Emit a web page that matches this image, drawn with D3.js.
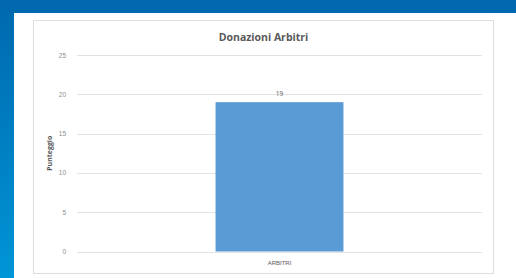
<!DOCTYPE html>
<html>
<head>
<meta charset="utf-8">
<script src="https://cdn.jsdelivr.net/npm/d3@7"></script>
<style>
  body { margin: 0; padding: 0; background: #fff; }
  svg { display: block; }
</style>
</head>
<body>
<div id="chart"></div>
<script>
var categories = ["ARBITRI"];
var values = [19];
var yTicks = [0, 5, 10, 15, 20, 25];
var chartTitle = "Donazioni Arbitri";
var yTitle = "Punteggio";

var W = 516, H = 278;

var svg = d3.select("#chart").append("svg")
    .attr("width", W)
    .attr("height", H)
    .style("font-family", "'Open Sans', 'Liberation Sans', sans-serif");

// slide background
var defs = svg.append("defs");
var grad = defs.append("linearGradient")
    .attr("id", "side")
    .attr("x1", 0).attr("y1", 0).attr("x2", 0).attr("y2", 1);
grad.append("stop").attr("offset", "0%").attr("stop-color", "#0068ae");
grad.append("stop").attr("offset", "100%").attr("stop-color", "#0095d6");

svg.append("rect").attr("width", W).attr("height", H).attr("fill", "#fff");
svg.append("rect").attr("x", 0).attr("y", 0).attr("width", W).attr("height", 13).attr("fill", "#0069b0");
svg.append("rect").attr("x", 0).attr("y", 0).attr("width", 14).attr("height", H).attr("fill", "url(#side)");

// chart frame
svg.append("rect")
    .attr("x", 33.5).attr("y", 20.5)
    .attr("width", 460).attr("height", 253)
    .attr("fill", "#fff")
    .attr("stroke", "#dedede")
    .attr("stroke-width", 1);

var margin = { top: 55, right: 34, bottom: 26, left: 77 };
var width = W - margin.left - margin.right;
var height = H - margin.top - margin.bottom - 0.5;

var g = svg.append("g")
    .attr("transform", "translate(" + margin.left + "," + margin.top + ")");

var y = d3.scaleLinear()
    .domain([0, 25])
    .range([height, 0]);

var x = d3.scaleBand()
    .domain(categories)
    .range([0, width])
    .padding(0.52);

// gridlines
g.selectAll(".grid")
    .data(yTicks)
    .enter()
    .append("line")
    .attr("class", "grid")
    .attr("x1", 0)
    .attr("x2", width)
    .attr("y1", function (d) { return Math.round(y(d)) + 0.5; })
    .attr("y2", function (d) { return Math.round(y(d)) + 0.5; })
    .attr("stroke", "#e3e3e3")
    .attr("stroke-width", 1);

// y axis labels
var yAxisCall = d3.axisLeft(y).tickValues(yTicks).tickSize(0).tickPadding(11);
var yAxis = g.append("g").attr("class", "y-axis").call(yAxisCall);
yAxis.select(".domain").remove();
yAxis.selectAll("text")
    .attr("fill", "#8c8c8c")
    .style("font-size", "6.5px");

// bars
g.selectAll("rect.bar")
    .data(values)
    .enter()
    .append("rect")
    .attr("class", "bar")
    .attr("x", function (d, i) { return x(categories[i]); })
    .attr("y", function (d) { return y(d); })
    .attr("width", x.bandwidth())
    .attr("height", function (d) { return height - y(d); })
    .attr("fill", "#5b9bd5");

// value labels
g.selectAll("text.val")
    .data(values)
    .enter()
    .append("text")
    .attr("class", "val")
    .attr("x", function (d, i) { return x(categories[i]) + x.bandwidth() / 2; })
    .attr("y", function (d) { return y(d) - 6; })
    .attr("text-anchor", "middle")
    .attr("fill", "#595959")
    .style("font-size", "6.5px")
    .text(function (d) { return d; });

// x axis
var xAxisCall = d3.axisBottom(x).tickSize(0).tickPadding(9);
var xAxis = g.append("g")
    .attr("class", "x-axis")
    .attr("transform", "translate(0," + height + ")")
    .call(xAxisCall);
xAxis.select(".domain").remove();
xAxis.selectAll("text")
    .attr("fill", "#595959")
    .style("font-size", "6px");

// titles
svg.append("text")
    .attr("x", 263.5)
    .attr("y", 41)
    .attr("text-anchor", "middle")
    .attr("fill", "#595959")
    .style("font-size", "10.5px")
    .style("font-weight", "bold")
    .text(chartTitle);

svg.append("text")
    .attr("transform", "translate(52," + (margin.top + height / 2) + ") rotate(-90)")
    .attr("text-anchor", "middle")
    .attr("fill", "#595959")
    .style("font-size", "7px")
    .style("font-weight", "bold")
    .text(yTitle);
</script>
</body>
</html>
